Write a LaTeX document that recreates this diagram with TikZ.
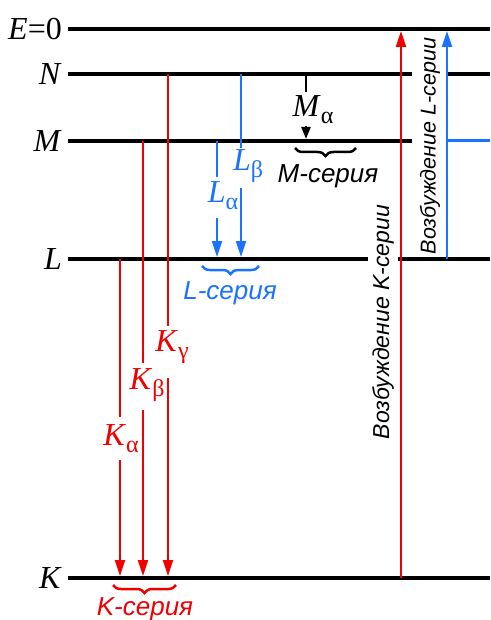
\documentclass[tikz,border=0pt]{standalone}
\usepackage{fontspec}
\setmainfont{Liberation Serif}
\newfontfamily\rufont{Liberation Sans}
\usetikzlibrary{arrows.meta,decorations.pathreplacing}
\definecolor{xred}{RGB}{240,0,0}
\definecolor{xblue}{RGB}{25,115,255}
\newcommand\lvlab[2]{\textit{#1}\raisebox{-7pt}{\fontsize{24}{24}\selectfont\upshape #2}}
\tikzset{
  levelline/.style={line width=4pt, black},
  trans/.style={line width=2.2pt},
  tipped/.style={-{Triangle[length=16pt,width=10pt]}},
  smalltip/.style={-{Triangle[length=12pt,width=9pt]}},
  lbl/.style={font=\fontsize{32}{32}\selectfont, inner sep=0pt},
  rutext/.style={font=\rufont\itshape\fontsize{23}{23}\selectfont, inner sep=0pt},
  sertext/.style={font=\rufont\itshape\fontsize{26}{26}\selectfont, inner sep=0pt},
  br/.style={decorate, decoration={brace, mirror, amplitude=8pt}, line width=2.5pt},
}
\begin{document}
\begin{tikzpicture}[x=1pt,y=-1pt]
\useasboundingbox (0,0) rectangle (490,620);
% level labels
\node[lbl, anchor=east] (lE) at (62,29) {\textit{E}=0};
\node[lbl, anchor=east] (lN) at (62,74) {\textit{N}};
\node[lbl, anchor=east] (lM) at (62,141) {\textit{M}};
\node[lbl, anchor=east] (lL) at (62,259) {\textit{L}};
\node[lbl, anchor=east] (lK) at (62,578) {\textit{K}};
% level lines
\coordinate (E0a) at (68,29);  \coordinate (E0b) at (490,29);
\coordinate (Na) at (68,74);   \coordinate (Nb) at (412,74);
\coordinate (Nc) at (447,74);  \coordinate (Nd) at (490,74);
\coordinate (Ma) at (68,141);  \coordinate (Mb) at (412,141);
\coordinate (Mc) at (447,141); \coordinate (Md) at (490,141);
\coordinate (La) at (68,259);  \coordinate (Lb) at (368,259);
\coordinate (Lc) at (398,259); \coordinate (Ld) at (490,259);
\coordinate (Ka) at (68,578);  \coordinate (Kb) at (490,578);
\draw[levelline] (E0a) -- (E0b);
\draw[levelline] (Na) -- (Nb);
\draw[levelline] (Nc) -- (Nd);
\draw[levelline] (Ma) -- (Mb);
\draw[levelline] (La) -- (Lb);
\draw[levelline] (Lc) -- (Ld);
\draw[levelline] (Ka) -- (Kb);
\draw[levelline, xblue, line width=3pt] (Mc) -- (Md);
% K series
\node[lbl, text=xred] (Kal) at (121,439) {\lvlab{K}{α}};
\node[lbl, text=xred] (Kbl) at (147,385) {\lvlab{K}{β}};
\node[lbl, text=xred] (Kgl) at (172,347) {\lvlab{K}{γ}};
\coordinate (ka1) at (120,259); \coordinate (ka2) at (120,417);
\coordinate (ka3) at (120,460); \coordinate (ka4) at (120,576);
\coordinate (kb1) at (143,141); \coordinate (kb2) at (143,363);
\coordinate (kb3) at (143,410); \coordinate (kb4) at (143,576);
\coordinate (kg1) at (168,74);  \coordinate (kg2) at (168,326);
\coordinate (kg3) at (168,378); \coordinate (kg4) at (168,576);
\draw[trans, xred] (ka1) -- (ka2);
\draw[trans, xred, tipped] (ka3) -- (ka4);
\draw[trans, xred] (kb1) -- (kb2);
\draw[trans, xred, tipped] (kb3) -- (kb4);
\draw[trans, xred] (kg1) -- (kg2);
\draw[trans, xred, tipped] (kg3) -- (kg4);
% L series
\node[lbl, text=xblue] (Lal) at (223,196) {\lvlab{L}{α}};
\node[lbl, text=xblue] (Lbl) at (248,166) {\lvlab{L}{β}};
\coordinate (la1) at (217,141); \coordinate (la2) at (217,177);
\coordinate (la3) at (217,218); \coordinate (la4) at (217,257);
\coordinate (lb1) at (241,74);  \coordinate (lb2) at (241,148);
\coordinate (lb3) at (241,188); \coordinate (lb4) at (241,257);
\draw[trans, xblue] (la1) -- (la2);
\draw[trans, xblue, tipped] (la3) -- (la4);
\draw[trans, xblue] (lb1) -- (lb2);
\draw[trans, xblue, tipped] (lb3) -- (lb4);
% M series
\node[lbl] (Mal) at (313,110) {\lvlab{M}{α}};
\coordinate (ma1) at (306,74);  \coordinate (ma2) at (306,92);
\coordinate (ma3) at (306,126); \coordinate (ma4) at (306,139);
\draw[trans] (ma1) -- (ma2);
\draw[trans, smalltip] (ma3) -- (ma4);
% braces and series names
\coordinate (mbr1) at (295,148); \coordinate (mbr2) at (356,148);
\draw[br] (mbr1) -- (mbr2);
\node[sertext] (Mser) at (328,176) {M-серия};
\coordinate (lbr1) at (202,266); \coordinate (lbr2) at (259,266);
\draw[br, xblue] (lbr1) -- (lbr2);
\node[sertext, text=xblue] (Lser) at (230,293) {L-серия};
\coordinate (kbr1) at (113,585); \coordinate (kbr2) at (176,585);
\draw[br, xred] (kbr1) -- (kbr2);
\node[sertext, text=xred] (Kser) at (145,609) {K-серия};
% excitation
\coordinate (ek1) at (401,578); \coordinate (ek2) at (401,31);
\draw[trans, xred, tipped] (ek1) -- (ek2);
\coordinate (el1) at (447,259); \coordinate (el2) at (447,31);
\draw[trans, xblue, tipped] (el1) -- (el2);
\node[rutext, rotate=90] (EKt) at (383,322) {Возбуждение K-серии};
\node[rutext, rotate=90, font=\rufont\itshape\fontsize{21.5}{21.5}\selectfont] (ELt) at (430,146) {Возбуждение L-серии};
\end{tikzpicture}
\end{document}
